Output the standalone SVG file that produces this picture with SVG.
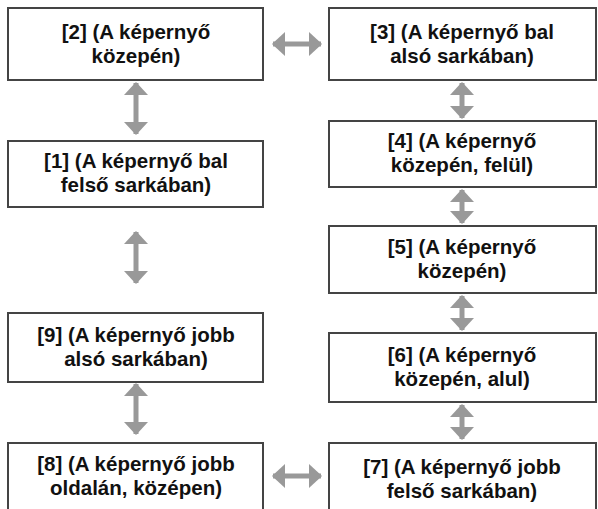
<svg xmlns="http://www.w3.org/2000/svg" width="598" height="509" viewBox="0 0 598 509">
<style>
.box{fill:#fff;stroke:#444;stroke-width:2}
.t{font-family:"Liberation Sans",Arial,sans-serif;font-weight:bold;font-size:20.5px;fill:#111;text-anchor:middle}
.c{stroke:#999;stroke-width:5;fill:none}
.h{fill:#999}
</style>
<defs>
<marker id="ah" viewBox="0 0 13 24" refX="12" refY="12" markerWidth="13" markerHeight="24" markerUnits="userSpaceOnUse" orient="auto-start-reverse">
<path d="M0,0 L13,12 L0,24 z" fill="#999"/>
</marker>
</defs>
<rect width="598" height="509" fill="#fff"/>
<g id="connectors">
<line class="c" x1="273" y1="44" x2="321" y2="44" marker-start="url(#ah)" marker-end="url(#ah)"/>
<line class="c" x1="136" y1="83" x2="136" y2="134" marker-start="url(#ah)" marker-end="url(#ah)"/>
<line class="c" x1="136" y1="232" x2="136" y2="283" marker-start="url(#ah)" marker-end="url(#ah)"/>
<line class="c" x1="136" y1="384" x2="136" y2="434" marker-start="url(#ah)" marker-end="url(#ah)"/>
<line class="c" x1="462" y1="83" x2="462" y2="118" marker-start="url(#ah)" marker-end="url(#ah)"/>
<line class="c" x1="462" y1="190" x2="462" y2="223" marker-start="url(#ah)" marker-end="url(#ah)"/>
<line class="c" x1="462" y1="296" x2="462" y2="330" marker-start="url(#ah)" marker-end="url(#ah)"/>
<line class="c" x1="462" y1="405" x2="462" y2="439" marker-start="url(#ah)" marker-end="url(#ah)"/>
<line class="c" x1="273" y1="476" x2="321" y2="476" marker-start="url(#ah)" marker-end="url(#ah)"/>
</g>
<g id="n2"><rect class="box" x="8" y="8" width="255" height="72"/><text class="t" x="136" y="39">[2] (A képernyő</text><text class="t" x="136" y="63">közepén)</text></g>
<g id="n3"><rect class="box" x="329" y="8" width="267" height="72"/><text class="t" x="462" y="39">[3] (A képernyő bal</text><text class="t" x="462" y="63">alsó sarkában)</text></g>
<g id="n1"><rect class="box" x="8" y="141" width="255" height="66"/><text class="t" x="136" y="168">[1] (A képernyő bal</text><text class="t" x="136" y="192">felső sarkában)</text></g>
<g id="n4"><rect class="box" x="329" y="121" width="267" height="66"/><text class="t" x="462" y="148">[4] (A képernyő</text><text class="t" x="462" y="172">közepén, felül)</text></g>
<g id="n5"><rect class="box" x="329" y="226" width="267" height="67"/><text class="t" x="462" y="254">[5] (A képernyő</text><text class="t" x="462" y="278">közepén)</text></g>
<g id="n9"><rect class="box" x="8" y="313" width="255" height="69"/><text class="t" x="136" y="342">[9] (A képernyő jobb</text><text class="t" x="136" y="366">alsó sarkában)</text></g>
<g id="n6"><rect class="box" x="329" y="333" width="267" height="69"/><text class="t" x="462" y="362">[6] (A képernyő</text><text class="t" x="462" y="386">közepén, alul)</text></g>
<g id="n8"><rect class="box" x="8" y="443" width="255" height="80"/><text class="t" x="136" y="471">[8] (A képernyő jobb</text><text class="t" x="136" y="495">oldalán, középen)</text></g>
<g id="n7"><rect class="box" x="329" y="443" width="267" height="80"/><text class="t" x="462" y="474">[7] (A képernyő jobb</text><text class="t" x="462" y="498">felső sarkában)</text></g>
</svg>
